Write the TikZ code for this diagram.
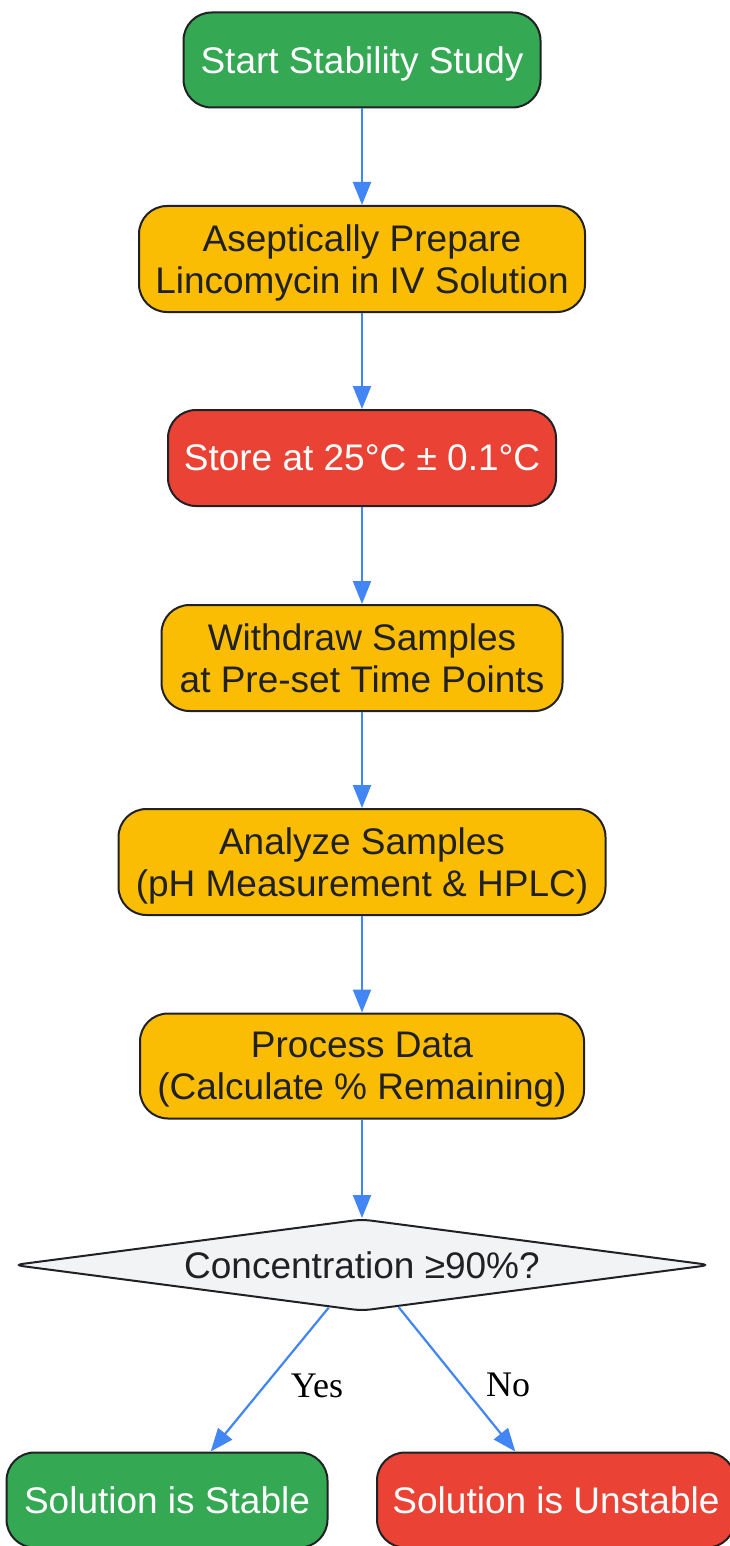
\documentclass[tikz,border=0pt]{standalone}
\usepackage{fontspec}
\setmainfont{Liberation Sans}
\newfontfamily\labelfont{Liberation Serif}
\usetikzlibrary{shapes.geometric,arrows.meta}
\definecolor{okgreen}{HTML}{34A853}
\definecolor{stepamber}{HTML}{FBBC04}
\definecolor{alertred}{HTML}{EA4335}
\definecolor{choicegray}{HTML}{F1F3F4}
\definecolor{edgegray}{HTML}{202124}
\definecolor{flowblue}{HTML}{4285F4}
\begin{document}
\begin{tikzpicture}[x=1pt,y=-1pt,
		box/.style={draw=edgegray,line width=2pt,rounded corners=28pt,inner sep=0pt,text depth=0pt,align=center,font=\fontsize{37}{42}\selectfont},
		greenbox/.style={box,fill=okgreen,text=white},
		amberbox/.style={box,fill=stepamber,text=edgegray},
		redbox/.style={box,fill=alertred,text=white},
		choice/.style={diamond,aspect=7.6,draw=edgegray,line width=2pt,rounded corners=9pt,inner sep=0pt,fill=choicegray,text=edgegray,font=\fontsize{37}{42}\selectfont},
		arr/.style={draw=flowblue,line width=2.2pt,-{Triangle[length=23pt,width=18pt]}},
		lbl/.style={inner sep=0pt,yshift=-6pt,font=\labelfont\fontsize{36}{40}\selectfont}]
		\useasboundingbox[fill=white] (0,0) rectangle (730,1546);
		\node[greenbox,minimum width=357pt,minimum height=95pt] (start) at (362,60) {Start Stability Study};
		\node[amberbox,minimum width=446pt,minimum height=106pt] (prep) at (362,259) {Aseptically Prepare\\ Lincomycin in IV Solution};
		\node[redbox,minimum width=388pt,minimum height=96pt] (store) at (362,458) {Store at 25°C ± 0.1°C};
		\node[amberbox,minimum width=401pt,minimum height=106pt] (withdraw) at (362,658) {Withdraw Samples\\ at Pre-set Time Points};
		\node[amberbox,minimum width=487pt,minimum height=106pt] (analyze) at (362,862) {Analyze Samples\\ (pH Measurement \& HPLC)};
		\node[amberbox,minimum width=444pt,minimum height=105pt] (process) at (362,1066) {Process Data\\ (Calculate \% Remaining)};
		\node[choice,minimum width=697pt,minimum height=92pt] (check) at (362,1265) {Concentration ≥90\%?};
		\node[greenbox,minimum width=321pt,minimum height=95pt] (stable) at (167,1500) {Solution is Stable};
		\node[redbox,minimum width=358pt,minimum height=95pt] (unstable) at (556,1500) {Solution is Unstable};
		\foreach \a/\b in {start/prep,prep/store,store/withdraw,withdraw/analyze,analyze/process,process/check}{
			\draw[arr] (\a) -- (\b);
		}
		\draw[arr] (check.232) -- node[midway,anchor=west,xshift=20pt,lbl]{Yes} (stable.48);
		\draw[arr] (check.311) -- node[midway,anchor=west,xshift=28pt,lbl]{No} (unstable.130);
	\end{tikzpicture}
\end{document}
